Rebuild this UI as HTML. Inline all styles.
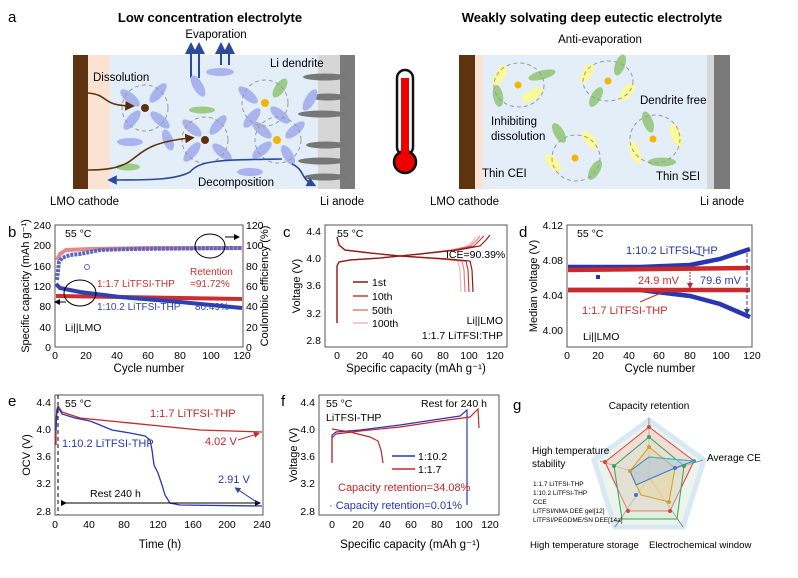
<!DOCTYPE html>
<html><head><meta charset="utf-8"><style>
html,body{margin:0;padding:0;background:#fff}
svg{display:block;font-family:"Liberation Sans",Arial,sans-serif}
</style></head><body>
<svg width="798" height="578" viewBox="0 0 798 578" xmlns="http://www.w3.org/2000/svg">
<defs>
<marker id="ab" markerWidth="6" markerHeight="6" refX="3" refY="3" orient="auto"><path d="M0,0L6,3L0,6z" fill="#2a4a9a"/></marker>
<marker id="ar" markerWidth="6" markerHeight="6" refX="3" refY="3" orient="auto"><path d="M0,0L6,3L0,6z" fill="#c0282d"/></marker>
<marker id="abr" markerWidth="6" markerHeight="6" refX="3" refY="3" orient="auto"><path d="M0,0L6,3L0,6z" fill="#5a2a10"/></marker>
<marker id="ak" markerWidth="6" markerHeight="6" refX="3" refY="3" orient="auto"><path d="M0,0L6,3L0,6z" fill="#000"/></marker>
</defs>
<!-- ===== Panel a ===== -->
<text x="8" y="22" font-size="15">a</text>
<text x="210" y="22" font-size="13" font-weight="bold" text-anchor="middle">Low concentration electrolyte</text>
<text x="216" y="38" font-size="11.5" text-anchor="middle">Evaporation</text>
<rect x="73" y="55" width="282" height="134" fill="#e3eef9"/>
<rect x="88" y="55" width="22" height="134" fill="#fbe3d3"/>
<rect x="73" y="55" width="15" height="134" fill="#5e3410"/>
<rect x="318" y="55" width="22" height="134" fill="#d6d6d6"/>
<rect x="340" y="55" width="15" height="134" fill="#7a7a7a"/>
<g fill="#777"><ellipse cx="325" cy="77" rx="22" ry="3.5"/><ellipse cx="328" cy="97" rx="18" ry="3.5"/><ellipse cx="322" cy="114" rx="24" ry="3.5"/><ellipse cx="326" cy="145" rx="20" ry="3.5"/><ellipse cx="322" cy="161" rx="24" ry="3.5"/><ellipse cx="325" cy="177" rx="21" ry="3.5"/></g>
<g stroke="#2a4a9a" stroke-width="2" marker-end="url(#ab)"><line x1="191" y1="78" x2="191" y2="48"/><line x1="199" y1="78" x2="199" y2="48"/><line x1="221" y1="65" x2="221" y2="48"/><line x1="229" y1="65" x2="229" y2="48"/></g>
<text x="270" y="67" font-size="11.5">Li dendrite</text>
<text x="93" y="81" font-size="11.5">Dissolution</text>
<g fill="#a9b4ef">
<ellipse cx="220" cy="72" rx="14" ry="4"/><ellipse cx="198" cy="86" rx="12" ry="5" transform="rotate(60 198 86)"/>
<ellipse cx="130" cy="98" rx="12" ry="5" transform="rotate(40 130 98)"/><ellipse cx="158" cy="93" rx="12" ry="5" transform="rotate(-50 158 93)"/>
<ellipse cx="132" cy="120" rx="12" ry="5" transform="rotate(-50 132 120)"/><ellipse cx="160" cy="120" rx="12" ry="5" transform="rotate(40 160 120)"/>
<ellipse cx="130" cy="142" rx="13" ry="4"/><ellipse cx="168" cy="140" rx="11" ry="5" transform="rotate(70 168 140)"/>
<ellipse cx="192" cy="128" rx="12" ry="5" transform="rotate(40 192 128)"/><ellipse cx="218" cy="125" rx="12" ry="5" transform="rotate(-50 218 125)"/>
<ellipse cx="192" cy="152" rx="12" ry="5" transform="rotate(-50 192 152)"/><ellipse cx="222" cy="152" rx="12" ry="5" transform="rotate(40 222 152)"/>
<ellipse cx="248" cy="95" rx="12" ry="5" transform="rotate(40 248 95)"/><ellipse cx="252" cy="118" rx="12" ry="5" transform="rotate(-50 252 118)"/>
<ellipse cx="280" cy="115" rx="12" ry="5" transform="rotate(40 280 115)"/><ellipse cx="310" cy="100" rx="12" ry="5" transform="rotate(-60 310 100)"/>
<ellipse cx="262" cy="130" rx="12" ry="5" transform="rotate(40 262 130)"/><ellipse cx="295" cy="130" rx="12" ry="5" transform="rotate(-40 295 130)"/>
<ellipse cx="262" cy="150" rx="12" ry="5" transform="rotate(-40 262 150)"/><ellipse cx="288" cy="155" rx="11" ry="5" transform="rotate(60 288 155)"/>
<ellipse cx="250" cy="172" rx="13" ry="4"/>
</g>
<g fill="#9ccb88"><ellipse cx="202" cy="110" rx="13" ry="3.5"/><ellipse cx="280" cy="88" rx="11" ry="5" transform="rotate(-55 280 88)"/><ellipse cx="128" cy="167" rx="12" ry="3.5"/></g>
<g fill="none" stroke="#999" stroke-dasharray="4 3"><circle cx="145" cy="108" r="23"/><circle cx="205" cy="140" r="23"/><circle cx="265" cy="103" r="23"/><circle cx="278" cy="140" r="23"/></g>
<circle cx="145" cy="108" r="4" fill="#5e3410"/><circle cx="205" cy="140" r="4" fill="#5e3410"/>
<circle cx="265" cy="103" r="4" fill="#f5b400"/><circle cx="277" cy="140" r="4" fill="#f5b400"/>
<g fill="none" stroke="#5e3410" stroke-width="1.6"><path d="M88,93 C110,95 100,105 130,106" marker-end="url(#abr)"/><path d="M88,170 C150,170 120,145 190,138" marker-end="url(#abr)"/></g>
<g fill="none" stroke="#2a4a9a" stroke-width="1.6"><path d="M282,159 C220,160 200,160 190,172 C175,180 150,180 112,180" marker-end="url(#ab)"/><path d="M292,164 C305,170 300,178 312,184" marker-end="url(#ab)"/></g>
<text x="198" y="186" font-size="11.5">Decomposition</text>
<text x="50" y="205" font-size="11.5">LMO cathode</text>
<text x="320" y="205" font-size="11.5">Li anode</text>
<!-- thermometer -->
<rect x="397" y="70" width="16" height="85" rx="8" fill="#fff" stroke="#111" stroke-width="2.5"/>
<circle cx="405" cy="162" r="11" fill="#e00" stroke="#111" stroke-width="2.5"/>
<rect x="401" y="78" width="8" height="80" fill="#e00"/>
<!-- right cell -->
<text x="592" y="22" font-size="13" font-weight="bold" text-anchor="middle">Weakly solvating deep eutectic electrolyte</text>
<text x="600" y="43" font-size="11.5" text-anchor="middle">Anti-evaporation</text>
<rect x="459" y="55" width="271" height="134" fill="#e3eef9"/>
<rect x="475" y="55" width="8" height="134" fill="#fbe3d3"/>
<rect x="459" y="55" width="16" height="134" fill="#5e3410"/>
<rect x="707" y="55" width="7" height="134" fill="#d6d6d6"/>
<rect x="714" y="55" width="16" height="134" fill="#7a7a7a"/>
<g fill="#fafa9a"><ellipse cx="500" cy="75" rx="11" ry="5" transform="rotate(-60 500 75)"/><ellipse cx="532" cy="95" rx="12" ry="5" transform="rotate(-30 532 95)"/><ellipse cx="587" cy="73" rx="11" ry="5" transform="rotate(-60 587 73)"/><ellipse cx="627" cy="92" rx="11" ry="5" transform="rotate(-50 627 92)"/><ellipse cx="590" cy="140" rx="11" ry="5" transform="rotate(50 590 140)"/><ellipse cx="553" cy="163" rx="11" ry="5" transform="rotate(50 553 163)"/><ellipse cx="676" cy="135" rx="12" ry="5" transform="rotate(70 676 135)"/><ellipse cx="635" cy="152" rx="12" ry="5" transform="rotate(70 635 152)"/></g>
<g fill="#9ccb88"><ellipse cx="542" cy="75" rx="14" ry="4.5" transform="rotate(-15 542 75)"/><ellipse cx="498" cy="96" rx="11" ry="5" transform="rotate(80 498 96)"/><ellipse cx="620" cy="65" rx="11" ry="5" transform="rotate(-70 620 65)"/><ellipse cx="596" cy="97" rx="11" ry="5" transform="rotate(-60 596 97)"/><ellipse cx="559" cy="133" rx="11" ry="5" transform="rotate(60 559 133)"/><ellipse cx="595" cy="170" rx="11" ry="5" transform="rotate(-60 595 170)"/><ellipse cx="648" cy="122" rx="11" ry="5" transform="rotate(70 648 122)"/><ellipse cx="662" cy="162" rx="14" ry="4.5"/></g>
<g fill="none" stroke="#999" stroke-dasharray="4 3"><ellipse cx="519" cy="85" rx="25" ry="22"/><ellipse cx="608" cy="81" rx="25" ry="20"/><ellipse cx="576" cy="158" rx="24" ry="23"/><ellipse cx="655" cy="139" rx="25" ry="24"/></g>
<g fill="#f5b400"><circle cx="518" cy="85" r="3.5"/><circle cx="608" cy="81" r="3.5"/><circle cx="575" cy="158" r="3.5"/><circle cx="653" cy="139" r="3.5"/></g>
<text x="640" y="104" font-size="11.5">Dendrite free</text>
<text x="491" y="125" font-size="11.5">Inhibiting</text>
<text x="491" y="140" font-size="11.5">dissolution</text>
<text x="482" y="177" font-size="11.5">Thin CEI</text>
<text x="656" y="180" font-size="11.5">Thin SEI</text>
<text x="430" y="205" font-size="11.5">LMO cathode</text>
<text x="700" y="205" font-size="11.5">Li anode</text>

<!-- ===== Panel b ===== -->
<g font-size="10.5">
<text x="8" y="237" font-size="15">b</text>
<rect x="55" y="225" width="188" height="122" fill="none" stroke="#555"/>
<g text-anchor="end"><text x="51" y="229">240</text><text x="51" y="249">200</text><text x="51" y="270">160</text><text x="51" y="290">120</text><text x="51" y="310">80</text><text x="51" y="331">40</text><text x="51" y="351">0</text></g>
<g><text x="246" y="229">120</text><text x="246" y="249">100</text><text x="246" y="270">80</text><text x="246" y="290">60</text><text x="246" y="310">40</text><text x="246" y="331">20</text><text x="246" y="351">0</text></g>
<g text-anchor="middle"><text x="55" y="359">0</text><text x="86" y="359">20</text><text x="117" y="359">40</text><text x="148" y="359">60</text><text x="180" y="359">80</text><text x="211" y="359">100</text><text x="242" y="359">120</text></g>
<text x="149" y="372" text-anchor="middle" font-size="11.5">Cycle number</text>
<text transform="translate(29 286) rotate(-90)" text-anchor="middle" font-size="11">Specific capacity (mAh g⁻¹)</text>
<text transform="translate(268 286) rotate(-90)" text-anchor="middle" font-size="11">Coulombic efficiency (%)</text>
<path d="M57,260 L60,254 L66,250 L90,249 L150,248 L242,248" fill="none" stroke="#e08a8a" stroke-width="4"/>
<path d="M57,280 L59,262 L62,258 L70,255 L80,254 L90,252 L100,250 L130,249 L242,248" fill="none" stroke="#5a66c8" stroke-width="4" stroke-dasharray="3 1"/>
<circle cx="87" cy="267" r="2.5" fill="none" stroke="#5a66c8"/>
<path d="M56,296 L242,299" fill="none" stroke="#c83030" stroke-width="4"/>
<path d="M56,284 L60,288 L80,292 L120,297 L180,302 L242,308" fill="none" stroke="#3040b0" stroke-width="4"/>
<text x="65" y="237">55 °C</text>
<text x="65" y="331">Li||LMO</text>
<text x="97" y="287" fill="#c83030" font-size="10">1:1.7 LiTFSI-THP</text>
<text x="97" y="310" fill="#3040b0" font-size="10">1:10.2 LiTFSI-THP</text>
<text x="190" y="275" fill="#c83030" font-size="10">Retention</text>
<text x="190" y="287" fill="#c83030" font-size="10">=91.72%</text>
<text x="195" y="310" fill="#3040b0" font-size="10">80.49%</text>
<ellipse cx="80" cy="293" rx="16" ry="13" fill="none" stroke="#000"/>
<line x1="66" y1="302" x2="57" y2="302" stroke="#000" marker-end="url(#ak)"/>
<ellipse cx="210" cy="246" rx="15" ry="12" fill="none" stroke="#000"/>
<line x1="225" y1="237" x2="237" y2="237" stroke="#000" marker-end="url(#ak)"/>
</g>

<!-- ===== Panel c ===== -->
<g font-size="10.5">
<text x="283" y="237" font-size="15">c</text>
<rect x="325" y="225" width="182" height="122" fill="none" stroke="#555"/>
<g text-anchor="end"><text x="321" y="235">4.4</text><text x="321" y="262">4.0</text><text x="321" y="289">3.6</text><text x="321" y="317">3.2</text><text x="321" y="344">2.8</text></g>
<g text-anchor="middle"><text x="337" y="359">0</text><text x="362" y="359">20</text><text x="388" y="359">40</text><text x="417" y="359">60</text><text x="443" y="359">80</text><text x="469" y="359">100</text><text x="495" y="359">120</text></g>
<text x="416" y="372" text-anchor="middle" font-size="11.5">Specific capacity  (mAh g⁻¹)</text>
<text transform="translate(300 286) rotate(-90)" text-anchor="middle" font-size="11">Voltage (V)</text>
<g fill="none" stroke-width="1.2">
<path d="M337,323 L337,266 L339,262 L350,260 L380,258 L420,254 L450,250 L466,247 L472,242 L476,237 M337,237 L339,245 L345,250 L370,253 L400,256 L440,259 L458,261 L460,270 L461,292" stroke="#f2b8b8"/>
<path d="M337,323 L337,266 L339,262 L350,260 L380,258 L420,254 L452,250 L470,246 L476,241 L480,236 M337,237 L339,245 L345,250 L370,253 L400,256 L442,259 L462,261 L464,270 L465,292" stroke="#e88080"/>
<path d="M337,323 L337,266 L339,262 L350,260 L380,258 L420,254 L455,250 L474,246 L480,240 L484,236 M337,237 L339,245 L345,250 L370,253 L400,256 L445,259 L466,261 L468,270 L469,292" stroke="#cc3a3a"/>
<path d="M337,323 L337,266 L339,262 L350,260 L380,258 L420,254 L458,250 L480,246 L486,240 L490,235 M337,237 L339,245 L345,250 L370,253 L400,256 L448,259 L470,261 L472,270 L473,292" stroke="#8a1a1a"/>
</g>
<text x="337" y="237">55 °C</text>
<text x="446" y="258">ICE=90.39%</text>
<g stroke-width="1.5"><line x1="353" y1="282" x2="368" y2="282" stroke="#8a1a1a"/><line x1="353" y1="296" x2="368" y2="296" stroke="#cc3a3a"/><line x1="353" y1="310" x2="368" y2="310" stroke="#e88080"/><line x1="353" y1="323" x2="368" y2="323" stroke="#f2b8b8"/></g>
<text x="372" y="286">1st</text><text x="372" y="300">10th</text><text x="372" y="314">50th</text><text x="372" y="327">100th</text>
<text x="503" y="324" text-anchor="end">Li||LMO</text>
<text x="503" y="339" text-anchor="end">1:1.7 LiTFSI:THP</text>
</g>

<!-- ===== Panel d ===== -->
<g font-size="10.5">
<text x="519" y="237" font-size="15">d</text>
<rect x="567" y="225" width="185" height="122" fill="none" stroke="#555"/>
<g text-anchor="end"><text x="563" y="229">4.12</text><text x="563" y="264">4.08</text><text x="563" y="299">4.04</text><text x="563" y="334">4.00</text></g>
<g text-anchor="middle"><text x="567" y="359">0</text><text x="598" y="359">20</text><text x="629" y="359">40</text><text x="659" y="359">60</text><text x="690" y="359">80</text><text x="721" y="359">100</text><text x="752" y="359">120</text></g>
<text x="660" y="372" text-anchor="middle" font-size="11.5">Cycle number</text>
<text transform="translate(537 286) rotate(-90)" text-anchor="middle" font-size="11">Median voltage (V)</text>
<path d="M568,267 L640,267 L690,265 L720,259 L750,249" fill="none" stroke="#2a36b0" stroke-width="4.5"/>
<path d="M568,290 L640,290 L690,296 L720,304 L750,317" fill="none" stroke="#2a36b0" stroke-width="4.5"/>
<path d="M568,270 L750,268" stroke="#cc2a2a" stroke-width="4.5"/>
<path d="M568,290 L750,290" stroke="#cc2a2a" stroke-width="4.5"/>
<rect x="596" y="275" width="4" height="4" fill="#2a36b0"/>
<line x1="690" y1="272" x2="690" y2="286" stroke="#cc2a2a" stroke-dasharray="2 1" marker-end="url(#ar)"/>
<line x1="747" y1="253" x2="747" y2="312" stroke="#2a36b0" stroke-dasharray="4 2" marker-end="url(#ab)"/>
<text x="577" y="237">55 °C</text>
<text x="583" y="340">Li||LMO</text>
<text x="626" y="254" fill="#2a36b0" font-size="11">1:10.2 LiTFSI-THP</text>
<line x1="690" y1="252" x2="704" y2="256" stroke="#2a36b0"/>
<text x="638" y="284" fill="#cc2a2a" font-size="11">24.9 mV</text>
<text x="700" y="284" fill="#2a36b0" font-size="11">79.6 mV</text>
<text x="582" y="314" fill="#cc2a2a" font-size="11">1:1.7 LiTFSI-THP</text>
<line x1="640" y1="302" x2="668" y2="290" stroke="#cc2a2a"/>
</g>

<!-- ===== Panel e ===== -->
<g font-size="10.5">
<text x="8" y="406" font-size="15">e</text>
<rect x="55" y="395" width="208" height="120" fill="none" stroke="#555"/>
<g text-anchor="end"><text x="51" y="406">4.4</text><text x="51" y="433">4.0</text><text x="51" y="460">3.6</text><text x="51" y="487">3.2</text><text x="51" y="515">2.8</text></g>
<g text-anchor="middle"><text x="55" y="528">0</text><text x="89" y="528">40</text><text x="124" y="528">80</text><text x="158" y="528">120</text><text x="193" y="528">160</text><text x="227" y="528">200</text><text x="262" y="528">240</text></g>
<text x="160" y="548" text-anchor="middle" font-size="11.5">Time (h)</text>
<text transform="translate(30 455) rotate(-90)" text-anchor="middle" font-size="11">OCV (V)</text>
<line x1="58" y1="395" x2="58" y2="515" stroke="#000" stroke-dasharray="4 3"/>
<path d="M56,445 L56,420 L57,409 L58,406 L62,412 L80,418 L120,422 L160,426 L200,430 L262,432" fill="none" stroke="#c0282d" stroke-width="1.3"/>
<path d="M56,430 L57,410 L58,407 L62,414 L75,418 L90,421 L100,425 L112,430 L130,433 L145,436 L150,440 L152,450 L154,465 L158,473 L162,485 L165,495 L170,503 L180,505 L262,506" fill="none" stroke="#2a36b0" stroke-width="1.3"/>
<line x1="64" y1="503" x2="258" y2="503" stroke="#000" marker-end="url(#ak)" marker-start="url(#ak)"/>
<text x="65" y="407">55 °C</text>
<text x="90" y="497">Rest 240 h</text>
<text x="150" y="417" fill="#c0282d" font-size="11">1:1.7 LiTFSI-THP</text>
<text x="205" y="445" fill="#c0282d" font-size="11">4.02 V</text>
<line x1="238" y1="440" x2="257" y2="434" stroke="#c0282d" marker-end="url(#ar)"/>
<text x="62" y="447" fill="#2a36b0" font-size="11">1:10.2 LiTFSI-THP</text>
<text x="218" y="483" fill="#2a36b0" font-size="11">2.91 V</text>
<line x1="258" y1="503" x2="237" y2="489" stroke="#2a36b0" marker-end="url(#ab)"/>
</g>

<!-- ===== Panel f ===== -->
<g font-size="10.5">
<text x="281" y="406" font-size="15">f</text>
<rect x="319" y="395" width="180" height="120" fill="none" stroke="#555"/>
<g text-anchor="end"><text x="315" y="406">4.4</text><text x="315" y="433">4.0</text><text x="315" y="460">3.6</text><text x="315" y="487">3.2</text><text x="315" y="515">2.8</text></g>
<g text-anchor="middle"><text x="332" y="528">0</text><text x="358" y="528">20</text><text x="385" y="528">40</text><text x="411" y="528">60</text><text x="437" y="528">80</text><text x="464" y="528">100</text><text x="490" y="528">120</text></g>
<text x="410" y="548" text-anchor="middle" font-size="11.5">Specific capacity (mAh g⁻¹)</text>
<text transform="translate(297 455) rotate(-90)" text-anchor="middle" font-size="11">Voltage (V)</text>
<path d="M332,462 L332,435 L336,432 L360,430 L400,425 L440,419 L460,416 L467,410 L467,505" fill="none" stroke="#2a36b0" stroke-width="1.2"/>
<path d="M332,463 L332,438 L336,434 L360,431 L400,427 L440,421 L470,417 L478,409 L479,428" fill="none" stroke="#c0282d" stroke-width="1.2"/>
<path d="M332,429 L350,432 L370,437 L378,441 L381,450 L383,463" fill="none" stroke="#c0282d" stroke-width="1.2"/>
<text x="326" y="407">55 °C</text>
<text x="326" y="421">LiTFSI-THP</text>
<text x="421" y="407">Rest for 240 h</text>
<line x1="392" y1="456" x2="415" y2="456" stroke="#2a36b0" stroke-width="1.5"/><text x="418" y="460">1:10.2</text>
<line x1="392" y1="469" x2="415" y2="469" stroke="#c0282d" stroke-width="1.5"/><text x="418" y="473">1:1.7</text>
<text x="338" y="491" fill="#c0282d" font-size="11">Capacity retention=34.08%</text>
<text x="329" y="509" fill="#2a36b0" font-size="11">· Capacity retention=0.01%</text>
</g>

<!-- ===== Panel g ===== -->
<g font-size="10">
<text x="513" y="410" font-size="15">g</text>
<polygon points="649,420 704,460 683,527 615,527 594,460" fill="#eaf4ea" stroke="none" opacity="0.9"/>
<polygon points="649,420 704,460 683,527 615,527 594,460" fill="none" stroke="#d8e8f4" stroke-width="5"/>
<g stroke="#777" stroke-width="0.8"><line x1="649" y1="477" x2="649" y2="418"/><line x1="649" y1="477" x2="703" y2="460"/><line x1="649" y1="477" x2="683" y2="527"/><line x1="649" y1="477" x2="615" y2="527"/><line x1="649" y1="477" x2="600" y2="461"/></g>
<polygon points="649,427 694,461 670,511 628,511 605,462" fill="#f4c7c0" fill-opacity="0.5" stroke="#d94040" stroke-width="1"/>
<polygon points="649,437 684,466 677,519 622,519 614,466" fill="#cfe6cf" fill-opacity="0.4" stroke="#3aa060" stroke-width="1"/>
<polygon points="649,447 675,468 669,502 641,495 630,471" fill="#e8d6a0" fill-opacity="0.5" stroke="#d0a020" stroke-width="1"/>
<polygon points="649,457 694,461 675,468 636,485 630,471" fill="#a9c4ea" fill-opacity="0.5" stroke="#3a7ad0" stroke-width="1"/>
<line x1="649" y1="457" x2="694" y2="461" stroke="#3ac0c0"/>
<g><circle cx="649" cy="427" r="2" fill="#d94040"/><circle cx="694" cy="461" r="2" fill="#3aa0a0"/><circle cx="605" cy="462" r="2" fill="#d94040"/><circle cx="670" cy="511" r="2" fill="#d94040"/><circle cx="628" cy="511" r="2" fill="#d94040"/><circle cx="649" cy="437" r="2" fill="#3aa060"/><circle cx="614" cy="466" r="2" fill="#3aa060"/><circle cx="684" cy="466" r="2" fill="#3aa060"/><circle cx="649" cy="447" r="2" fill="#d0a020"/><circle cx="630" cy="471" r="2" fill="#d0a020"/><circle cx="669" cy="502" r="2" fill="#d0a020"/><circle cx="675" cy="468" r="2" fill="#3a7ad0"/><circle cx="636" cy="495" r="2" fill="#3a7ad0"/></g>
<text x="649" y="409" text-anchor="middle">Capacity retention</text>
<text x="707" y="461">Average CE</text>
<text x="532" y="454">High temperature</text>
<text x="532" y="467">stability</text>
<text x="530" y="548" font-size="9.6">High temperature storage</text>
<text x="649" y="548" font-size="9.6">Electrochemical window</text>
<g font-size="6.5"><text x="533" y="486">1:1.7 LiTFSI-THP</text>
<text x="533" y="495">1:10.2 LiTFSI-THP</text>
<text x="533" y="504">CCE</text>
<text x="533" y="513">LiTFSI/NMA DEE gel[12]</text>
<text x="533" y="522">LiTFSI/PEGDME/SN DEE[14a]</text></g>
</g>
</svg>
</body></html>
